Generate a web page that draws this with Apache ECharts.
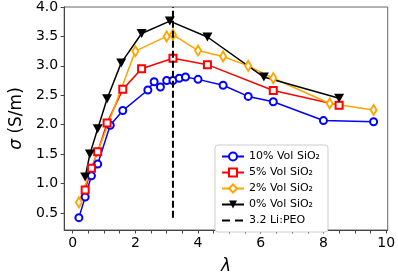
<!DOCTYPE html>
<html><head><meta charset="utf-8">
<script src="https://cdn.jsdelivr.net/npm/echarts@6/dist/echarts.min.js"></script>
<style>html,body{margin:0;padding:0;background:#fff}#c{width:398px;height:280px}</style>
</head><body><div id="c"></div>
<script>
const blueX = [0.2,0.4,0.6,0.8,1.2,1.6,2.4,2.6,2.8,3.0,3.2,3.4,3.6,4.0,4.8,5.6,6.4,8.0,9.6];
const blueY = [0.42,0.77,1.13,1.33,1.99,2.24,2.59,2.73,2.64,2.75,2.75,2.79,2.81,2.77,2.67,2.48,2.39,2.07,2.05];
const redX = [0.4,0.6,0.8,1.1,1.6,2.2,3.2,4.3,6.4,8.5];
const redY = [0.89,1.26,1.54,2.03,2.60,2.95,3.13,3.02,2.58,2.33];
const orangeX = [0.2,2.0,3.0,3.2,4.0,4.8,5.6,6.4,8.2,9.6];
const orangeY = [0.68,3.25,3.50,3.53,3.26,3.16,3.00,2.79,2.36,2.25];
const blackX = [0.4,0.55,0.8,1.1,1.55,2.2,3.1,4.3,6.1,8.5];
const blackY = [1.11,1.50,1.93,2.44,3.05,3.55,3.76,3.49,2.81,2.45];
const vlineX = [3.2,3.2];
const vlineY = [0.42,4.0];
const seriesNames = ['10% Vol SiO₂','5% Vol SiO₂','2% Vol SiO₂','0% Vol SiO₂','3.2 Li:PEO'];
const xTickLabels = [0,2,4,6,8,10];
const xTicks = [0,0.5,1,1.5,2,2.5,3,3.5,4,4.5,5,5.5,6,6.5,7,7.5,8,8.5,9,9.5,10];
const yTickLabels = [0.5,1.0,1.5,2.0,2.5,3.0,3.5,4.0];

const zip = (xs, ys) => xs.map((x, i) => [x, ys[i]]);
const F = 'DejaVu Sans';
const chart = echarts.init(document.getElementById('c'), null, {renderer: 'canvas'});
const downTri = 'path://M0,0 L10,0 L5,9 Z';
chart.setOption({
  animation: false,
  backgroundColor: '#fff',
  grid: {left: 53, right: 8, top: 6, bottom: 43, show: true, borderColor: '#666', borderWidth: 1},
  xAxis: {
    type: 'value', min: -0.27, max: 10.05,
    name: 'λ', nameLocation: 'middle', nameGap: 28,
    nameTextStyle: {fontFamily: F, fontSize: 17, fontStyle: 'italic', color: '#000'},
    axisLine: {show: true, onZero: false, lineStyle: {color: '#444', width: 1}},
    axisTick: {show: true, inside: false, length: 3.5, customValues: xTicks, lineStyle: {color: '#444'}},
    axisLabel: {customValues: xTickLabels, fontFamily: F, fontSize: 14, color: '#000', margin: 6,
      formatter: v => String(v)},
    splitLine: {show: false}
  },
  yAxis: {
    type: 'value', min: 0.21, max: 4.0,
    name: '{i|σ} (S/m)', nameLocation: 'middle', nameGap: 34,
    nameTextStyle: {fontFamily: F, fontSize: 17, color: '#000', rich: {i: {fontFamily: F, fontSize: 17, fontStyle: 'italic'}}},
    axisLine: {show: true, onZero: false, lineStyle: {color: '#444', width: 1}},
    axisTick: {show: true, inside: false, length: 3.5, customValues: yTickLabels, lineStyle: {color: '#444'}},
    axisLabel: {customValues: yTickLabels, fontFamily: F, fontSize: 14, color: '#000', margin: 6,
      formatter: v => v.toFixed(1)},
    splitLine: {show: false}
  },
  legend: {
    left: 215, top: 145, orient: 'vertical',
    backgroundColor: '#fff', borderColor: '#ccc', borderWidth: 1, borderRadius: 3,
    padding: [6, 8, 6, 6], itemGap: 5, itemWidth: 22, itemHeight: 10,
    textStyle: {fontFamily: F, fontSize: 11, color: '#000'},
    data: [seriesNames[0], seriesNames[1], seriesNames[2], seriesNames[3],
      {name: seriesNames[4], itemStyle: {opacity: 0}, lineStyle: {type: [8, 5], width: 2, color: '#000'}}]
  },
  series: [
    {name: seriesNames[0], type: 'line', data: zip(blueX, blueY), symbol: 'emptyCircle', symbolSize: 7,
      lineStyle: {color: '#0000ff', width: 1.5}, itemStyle: {color: '#0000ff', borderWidth: 1.6}},
    {name: seriesNames[1], type: 'line', data: zip(redX, redY), symbol: 'emptyRect', symbolSize: 7,
      lineStyle: {color: '#ff0000', width: 1.5}, itemStyle: {color: '#ff0000', borderWidth: 1.6}},
    {name: seriesNames[2], type: 'line', data: zip(orangeX, orangeY), symbol: 'emptyDiamond', symbolSize: [6, 10],
      lineStyle: {color: '#ffa500', width: 1.5}, itemStyle: {color: '#ffa500', borderWidth: 1.4}},
    {name: seriesNames[3], type: 'line', data: zip(blackX, blackY), symbol: downTri, symbolSize: [10, 9],
      lineStyle: {color: '#000', width: 1.5}, itemStyle: {color: '#000'}},
    {name: seriesNames[4], type: 'line', data: zip(vlineX, vlineY), symbol: 'none',
      lineStyle: {color: '#000', width: 2, type: [7, 3]}, itemStyle: {color: '#000'}, z: 5}
  ]
});
</script></body></html>
